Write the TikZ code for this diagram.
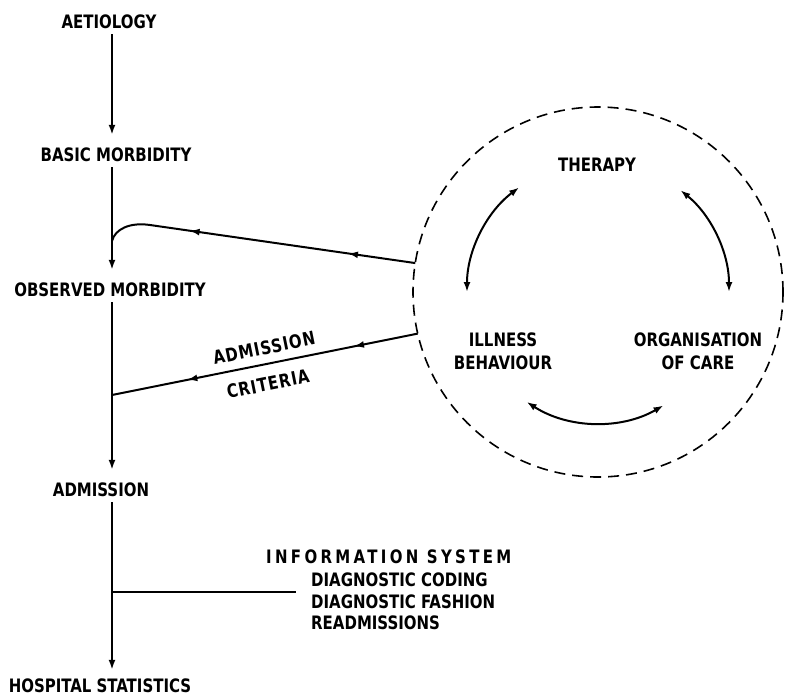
\documentclass[tikz,border=0pt]{standalone}
\usepackage{fontspec}
\setmainfont{DejaVu Sans Condensed}[FakeStretch=0.9]
\usetikzlibrary{arrows.meta,decorations.markings}

\tikzset{
  lbl/.style={font=\bfseries\fontsize{18.5}{23}\selectfont, inner sep=5pt},
  tight/.style={inner sep=1pt},
  spaced/.style={font=\bfseries\fontsize{18.5}{23}\selectfont\addfontfeatures{LetterSpace=#1}},
  flow/.style={line width=2pt, -{Latex[length=10pt,width=7pt]}, shorten >=8pt},
  both/.style={line width=2pt, {Latex[length=10pt,width=7pt]}-{Latex[length=10pt,width=7pt]}},
  feed/.style 2 args={line width=2pt, postaction={decorate},
    decoration={markings,
      mark=at position #1 with {\arrow{Latex[length=10pt,width=7pt]}},
      mark=at position #2 with {\arrow{Latex[length=10pt,width=7pt]}}}},
}

\begin{document}
\begin{tikzpicture}
      [x=1pt,y=-1pt,every node/.style={lbl}]
      \useasboundingbox (0,0) rectangle (785,697);
      \coordinate (spine) at (112,0);

      % left column
      \node (aet) at (109,22) {AETIOLOGY};
      \node (basic) at (116,155) {BASIC MORBIDITY};
      \node (obs) at (110,290) {OBSERVED MORBIDITY};
      \node (adm) at (101,490) {ADMISSION};
      \node [tight] (hosp) at (100,686) {HOSPITAL STATISTICS};

      \foreach \from/\to in {aet/basic, basic/obs, obs/adm, adm/hosp}
      \draw [flow] (\from.south -| spine) -- (\to.north -| spine);

      % dashed circle
      \node [draw,circle,line width=1.6pt,dash pattern=on 11pt off 7pt,
             minimum size=370pt,inner sep=0pt,outer sep=0pt] (circ) at (598,292) {};
      \node (ther) at (597,165) {THERAPY};
      \node [align=center] (ill) at (503,351) {ILLNESS\\BEHAVIOUR};
      \node [align=center] (org) at (698,351) {ORGANISATION\\OF CARE};

      \coordinate (t1) at ([shift={(-127:131)}]circ.center);
      \coordinate (t2) at ([shift={(-51:131)}]circ.center);
      \coordinate (b1) at ([shift={(123:131)}]circ.center);
      \draw [both] (t1) arc [start angle=-127, end angle=-180, radius=131];
      \draw [both] (t2) arc [start angle=-51, end angle=0, radius=131];
      \draw [both] (b1) arc [start angle=123, end angle=60, radius=131];

      % feedback lines
      \coordinate (fb) at (112,241);
      \coordinate (top) at (150,225);
      \draw [feed={68pt}{228pt}] (circ.171) -- (top)
            .. controls (130,222) and (115,229) .. (fb);
      \coordinate (ac) at (112,395);
      \draw [feed={65pt}{235pt}] (circ.193) -- (ac);
      \node [tight,spaced=5,rotate=11.5] (admc) at (264,348) {ADMISSION};
      \node [tight,spaced=5,rotate=11.5] (crit) at (268,384) {CRITERIA};

      % information system
      \node [tight,anchor=west,spaced=18] (info) at (265,557) {INFORMATION SYSTEM};
      \node [tight,anchor=west] (code) at (310,580) {DIAGNOSTIC CODING};
      \node [tight,anchor=west] (fash) at (310,602) {DIAGNOSTIC FASHION};
      \node [tight,anchor=west] (readm) at (310,623) {READMISSIONS};
      \coordinate (is) at (112,592);
      \coordinate (isend) at (296,592);
      \draw [line width=2pt] (is) -- (isend);
    \end{tikzpicture}
\end{document}
